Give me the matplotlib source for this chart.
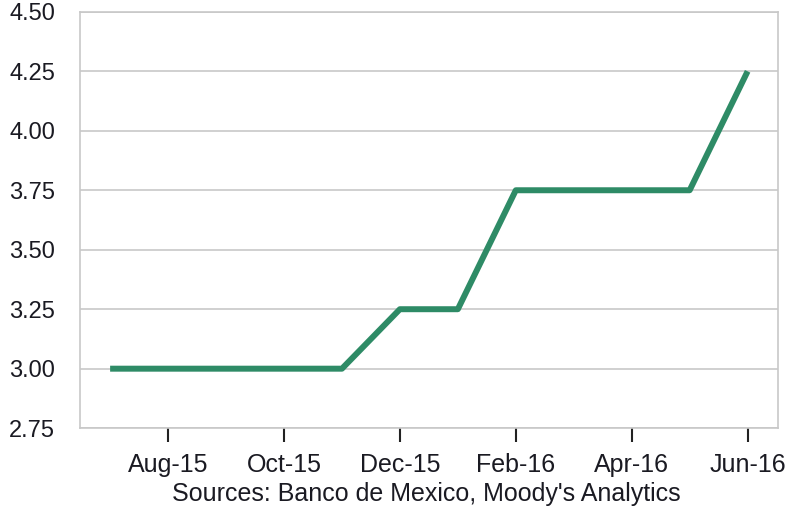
import matplotlib
matplotlib.use("Agg")
import matplotlib.pyplot as plt

months = ["Jul-15", "Aug-15", "Sep-15", "Oct-15", "Nov-15", "Dec-15",
          "Jan-16", "Feb-16", "Mar-16", "Apr-16", "May-16", "Jun-16"]
rate = [3.00, 3.00, 3.00, 3.00, 3.00, 3.25, 3.25, 3.75, 3.75, 3.75, 3.75, 4.25]
yticks = [2.75, 3.00, 3.25, 3.50, 3.75, 4.00, 4.25, 4.50]
source = "Sources: Banco de Mexico, Moody's Analytics"

plt.rcParams['font.family'] = ['Liberation Sans', 'DejaVu Sans']

fig = plt.figure(figsize=(7.92, 5.14), dpi=100)
ax = fig.add_axes([0.101, 0.167, 0.881, 0.810])

x = list(range(len(months)))
ax.plot(x, rate, color='#2e8b66', linewidth=4.3, solid_capstyle='butt', zorder=3)

ax.set_xlim(-0.52, 11.52)
ax.set_ylim(2.75, 4.50)
ax.set_yticks(yticks)
ax.set_yticklabels(['%.2f' % v for v in yticks])
ax.set_xticks(x[1::2])
ax.set_xticklabels(months[1::2])

ax.grid(axis='y', color='#c8c8c8', linewidth=1.2)
ax.set_axisbelow(True)
for s in ax.spines.values():
    s.set_color('#c8c8c8')
    s.set_linewidth(1.2)

ax.tick_params(axis='y', length=0, pad=18, labelsize=17, labelcolor='#1a1a22')
ax.tick_params(axis='x', direction='out', length=10, width=1.5, color='#222222',
               pad=8, labelsize=18, labelcolor='#1a1a22')

fig.text(0.538, 0.038, source, ha='center', va='center', fontsize=18, color='#1a1a22')

fig.savefig('out.png', dpi=100)
